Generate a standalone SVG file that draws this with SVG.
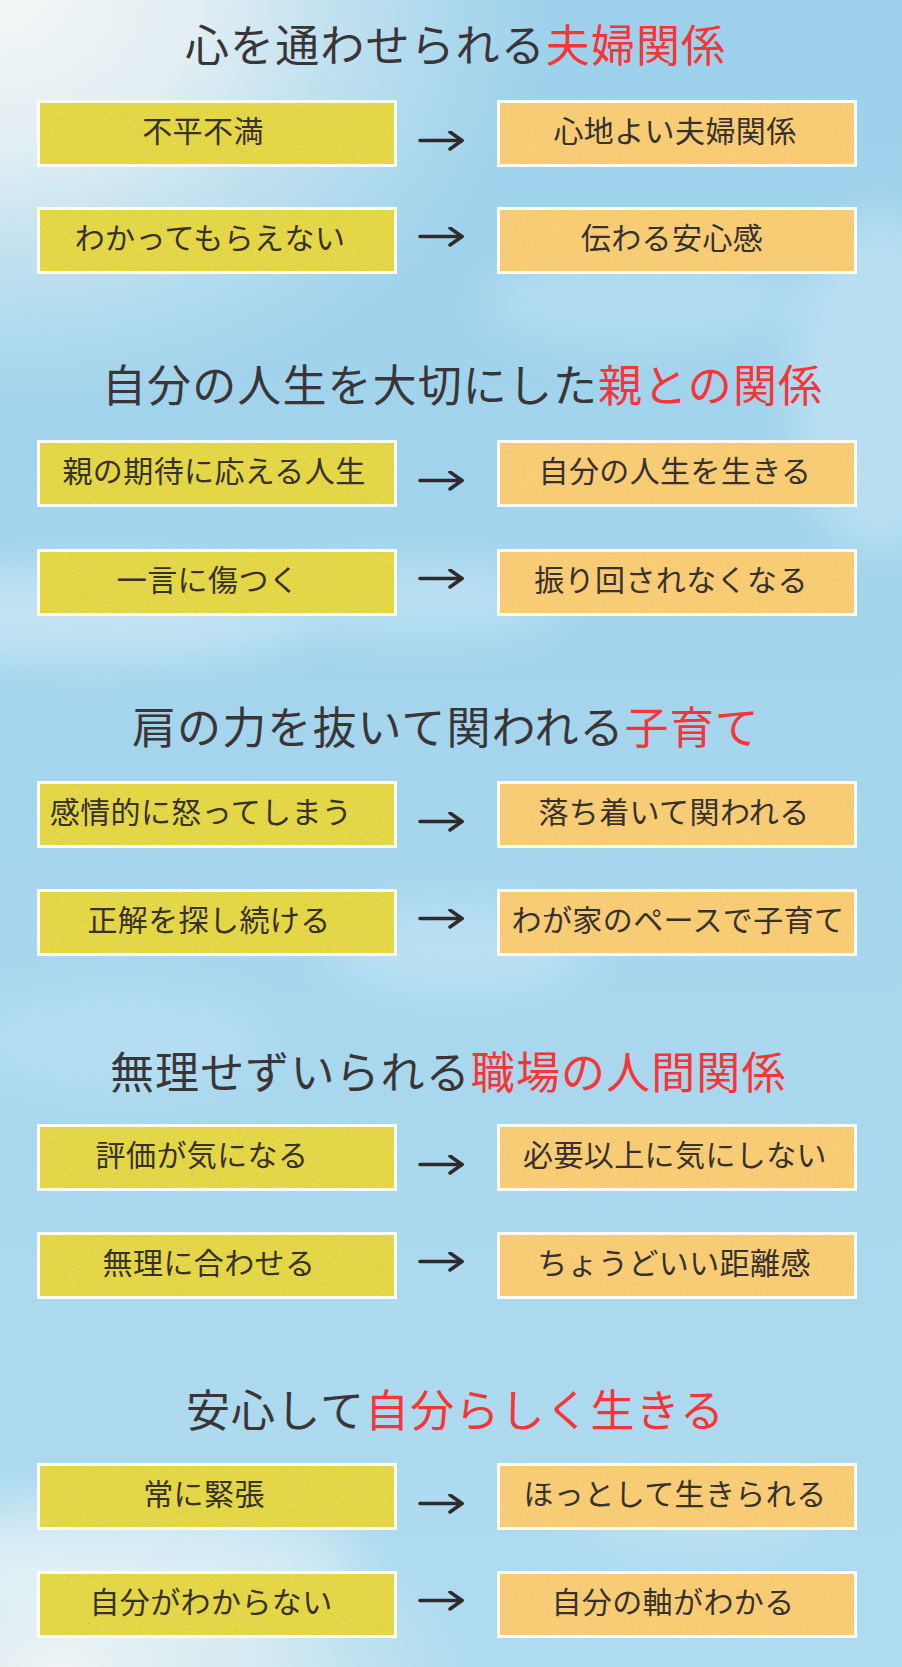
<svg xmlns="http://www.w3.org/2000/svg" width="902" height="1667" viewBox="0 0 902 1667">
<style>
.frame{fill:#fdfdf6}
.ly{fill:#e2d42f;filter:url(#grain)}
.ro{fill:#f8c96b;filter:url(#grain)}
.bt{font-family:"Noto Sans CJK JP","Noto Sans CJK SC",sans-serif;font-size:30px;fill:#37312f;letter-spacing:0.4px;text-anchor:middle}
.tt{font-family:"Noto Sans CJK JP","Noto Sans CJK SC",sans-serif;font-size:44px;fill:#3a3536;letter-spacing:1.1px}
.red{fill:#f73437}
.arrow{stroke:#2f2b2c;stroke-width:3.5;stroke-linecap:round;stroke-linejoin:round;fill:none}
.cloud{fill:#ffffff;filter:url(#blur)}
</style>
<defs>
<linearGradient id="sky" x1="0" y1="0" x2="0" y2="1">
<stop offset="0" stop-color="#9dd1eb"/>
<stop offset="0.5" stop-color="#a6d6ee"/>
<stop offset="1" stop-color="#afdbef"/>
</linearGradient>
<radialGradient id="tl" cx="0" cy="0" r="1" gradientUnits="userSpaceOnUse" gradientTransform="translate(0 0) scale(560 420)">
<stop offset="0" stop-color="#f3f6f5" stop-opacity="1"/>
<stop offset="0.35" stop-color="#eaf2f4" stop-opacity="0.9"/>
<stop offset="0.7" stop-color="#d6eaf2" stop-opacity="0.45"/>
<stop offset="1" stop-color="#c8e5f2" stop-opacity="0"/>
</radialGradient>
<radialGradient id="bl" cx="0" cy="0" r="1" gradientUnits="userSpaceOnUse" gradientTransform="translate(60 1667) scale(420 200)">
<stop offset="0" stop-color="#eef4f4" stop-opacity="1"/>
<stop offset="0.5" stop-color="#e2eff3" stop-opacity="0.7"/>
<stop offset="1" stop-color="#d0e8f2" stop-opacity="0"/>
</radialGradient>
<filter id="blur" x="-50%" y="-50%" width="200%" height="200%"><feGaussianBlur stdDeviation="22"/></filter>
<filter id="grain" x="0" y="0" width="100%" height="100%">
<feTurbulence type="fractalNoise" baseFrequency="1.1" numOctaves="2" seed="3" result="n"/>
<feColorMatrix in="n" type="matrix" values="0 0 0 0 1  0 0 0 0 1  0 0 0 0 0.9  0 0 0 0.35 -0.13" result="w"/>
<feComposite in="w" in2="SourceGraphic" operator="in" result="wc"/>
<feMerge><feMergeNode in="SourceGraphic"/><feMergeNode in="wc"/></feMerge>
</filter>
<marker id="head" viewBox="0 0 16 20" refX="14" refY="10" markerWidth="16" markerHeight="20" markerUnits="userSpaceOnUse" orient="auto">
<path d="M2,1.5 L14,10 L2,18.5" fill="none" stroke="#2f2b2c" stroke-width="3.5" stroke-linecap="round" stroke-linejoin="round"/>
</marker>
</defs>

<g id="background">
<rect width="902" height="1667" fill="url(#sky)"/>
<rect width="902" height="1667" fill="url(#tl)"/>
<rect width="902" height="1667" fill="url(#bl)"/>
<ellipse class="cloud" cx="90" cy="615" rx="220" ry="45" opacity="0.35"/>
<ellipse class="cloud" cx="420" cy="600" rx="140" ry="35" opacity="0.25"/>
<ellipse class="cloud" cx="460" cy="950" rx="130" ry="45" opacity="0.22"/>
<ellipse class="cloud" cx="880" cy="380" rx="90" ry="170" opacity="0.25"/>
<ellipse class="cloud" cx="640" cy="300" rx="160" ry="50" opacity="0.18"/>
<ellipse class="cloud" cx="140" cy="1560" rx="220" ry="60" opacity="0.3"/>
<ellipse class="cloud" cx="700" cy="1520" rx="120" ry="40" opacity="0.15"/>
<ellipse class="cloud" cx="120" cy="1040" rx="150" ry="50" opacity="0.15"/>
</g>

<g id="title1"><text class="tt" x="185" y="62">心を通わせられる<tspan class="red">夫婦関係</tspan></text></g>
<g id="title2"><text class="tt" x="102" y="402">自分の人生を大切にした<tspan class="red">親との関係</tspan></text></g>
<g id="title3"><text class="tt" x="132" y="744">肩の力を抜いて関われる<tspan class="red">子育て</tspan></text></g>
<g id="title4"><text class="tt" x="110" y="1089">無理せずいられる<tspan class="red">職場の人間関係</tspan></text></g>
<g id="title5"><text class="tt" x="186" y="1427">安心して<tspan class="red">自分らしく生きる</tspan></text></g>

<g id="s1-l1"><rect class="frame" x="37" y="100" width="360" height="67"/><rect class="ly" x="40" y="103" width="354" height="61"/><text class="bt" x="203" y="142">不平不満</text></g>
<g id="s1-r1"><rect class="frame" x="497" y="100" width="360" height="67"/><rect class="ro" x="500" y="103" width="354" height="61"/><text class="bt" x="675" y="142">心地よい夫婦関係</text></g>
<g id="s1-l2"><rect class="frame" x="37" y="207" width="360" height="67"/><rect class="ly" x="40" y="210" width="354" height="61"/><text class="bt" x="210" y="249">わかってもらえない</text></g>
<g id="s1-r2"><rect class="frame" x="497" y="207" width="360" height="67"/><rect class="ro" x="500" y="210" width="354" height="61"/><text class="bt" x="672" y="249">伝わる安心感</text></g>

<g id="s2-l1"><rect class="frame" x="37" y="440" width="360" height="67"/><rect class="ly" x="40" y="443" width="354" height="61"/><text class="bt" x="214" y="482">親の期待に応える人生</text></g>
<g id="s2-r1"><rect class="frame" x="497" y="440" width="360" height="67"/><rect class="ro" x="500" y="443" width="354" height="61"/><text class="bt" x="675" y="482">自分の人生を生きる</text></g>
<g id="s2-l2"><rect class="frame" x="37" y="549" width="360" height="67"/><rect class="ly" x="40" y="552" width="354" height="61"/><text class="bt" x="208" y="591">一言に傷つく</text></g>
<g id="s2-r2"><rect class="frame" x="497" y="549" width="360" height="67"/><rect class="ro" x="500" y="552" width="354" height="61"/><text class="bt" x="671" y="591">振り回されなくなる</text></g>

<g id="s3-l1"><rect class="frame" x="37" y="781" width="360" height="67"/><rect class="ly" x="40" y="784" width="354" height="61"/><text class="bt" x="201" y="823">感情的に怒ってしまう</text></g>
<g id="s3-r1"><rect class="frame" x="497" y="781" width="360" height="67"/><rect class="ro" x="500" y="784" width="354" height="61"/><text class="bt" x="674" y="823">落ち着いて関われる</text></g>
<g id="s3-l2"><rect class="frame" x="37" y="889" width="360" height="67"/><rect class="ly" x="40" y="892" width="354" height="61"/><text class="bt" x="209" y="931">正解を探し続ける</text></g>
<g id="s3-r2"><rect class="frame" x="497" y="889" width="360" height="67"/><rect class="ro" x="500" y="892" width="354" height="61"/><text class="bt" x="678" y="931">わが家のペースで子育て</text></g>

<g id="s4-l1"><rect class="frame" x="37" y="1124" width="360" height="67"/><rect class="ly" x="40" y="1127" width="354" height="61"/><text class="bt" x="202" y="1166">評価が気になる</text></g>
<g id="s4-r1"><rect class="frame" x="497" y="1124" width="360" height="67"/><rect class="ro" x="500" y="1127" width="354" height="61"/><text class="bt" x="675" y="1166">必要以上に気にしない</text></g>
<g id="s4-l2"><rect class="frame" x="37" y="1232" width="360" height="67"/><rect class="ly" x="40" y="1235" width="354" height="61"/><text class="bt" x="209" y="1274">無理に合わせる</text></g>
<g id="s4-r2"><rect class="frame" x="497" y="1232" width="360" height="67"/><rect class="ro" x="500" y="1235" width="354" height="61"/><text class="bt" x="674" y="1274">ちょうどいい距離感</text></g>

<g id="s5-l1"><rect class="frame" x="37" y="1463" width="360" height="67"/><rect class="ly" x="40" y="1466" width="354" height="61"/><text class="bt" x="204" y="1505">常に緊張</text></g>
<g id="s5-r1"><rect class="frame" x="497" y="1463" width="360" height="67"/><rect class="ro" x="500" y="1466" width="354" height="61"/><text class="bt" x="675" y="1505">ほっとして生きられる</text></g>
<g id="s5-l2"><rect class="frame" x="37" y="1571" width="360" height="67"/><rect class="ly" x="40" y="1574" width="354" height="61"/><text class="bt" x="211" y="1613">自分がわからない</text></g>
<g id="s5-r2"><rect class="frame" x="497" y="1571" width="360" height="67"/><rect class="ro" x="500" y="1574" width="354" height="61"/><text class="bt" x="673" y="1613">自分の軸がわかる</text></g>

<g id="connectors">
<path class="arrow" marker-end="url(#head)" d="M420,140.5 H462"/>
<path class="arrow" marker-end="url(#head)" d="M420,236.5 H462"/>
<path class="arrow" marker-end="url(#head)" d="M420,480.5 H462"/>
<path class="arrow" marker-end="url(#head)" d="M420,578.5 H462"/>
<path class="arrow" marker-end="url(#head)" d="M420,821.5 H462"/>
<path class="arrow" marker-end="url(#head)" d="M420,918.5 H462"/>
<path class="arrow" marker-end="url(#head)" d="M420,1164.5 H462"/>
<path class="arrow" marker-end="url(#head)" d="M420,1261.5 H462"/>
<path class="arrow" marker-end="url(#head)" d="M420,1503.5 H462"/>
<path class="arrow" marker-end="url(#head)" d="M420,1600.5 H462"/>
</g>
</svg>
